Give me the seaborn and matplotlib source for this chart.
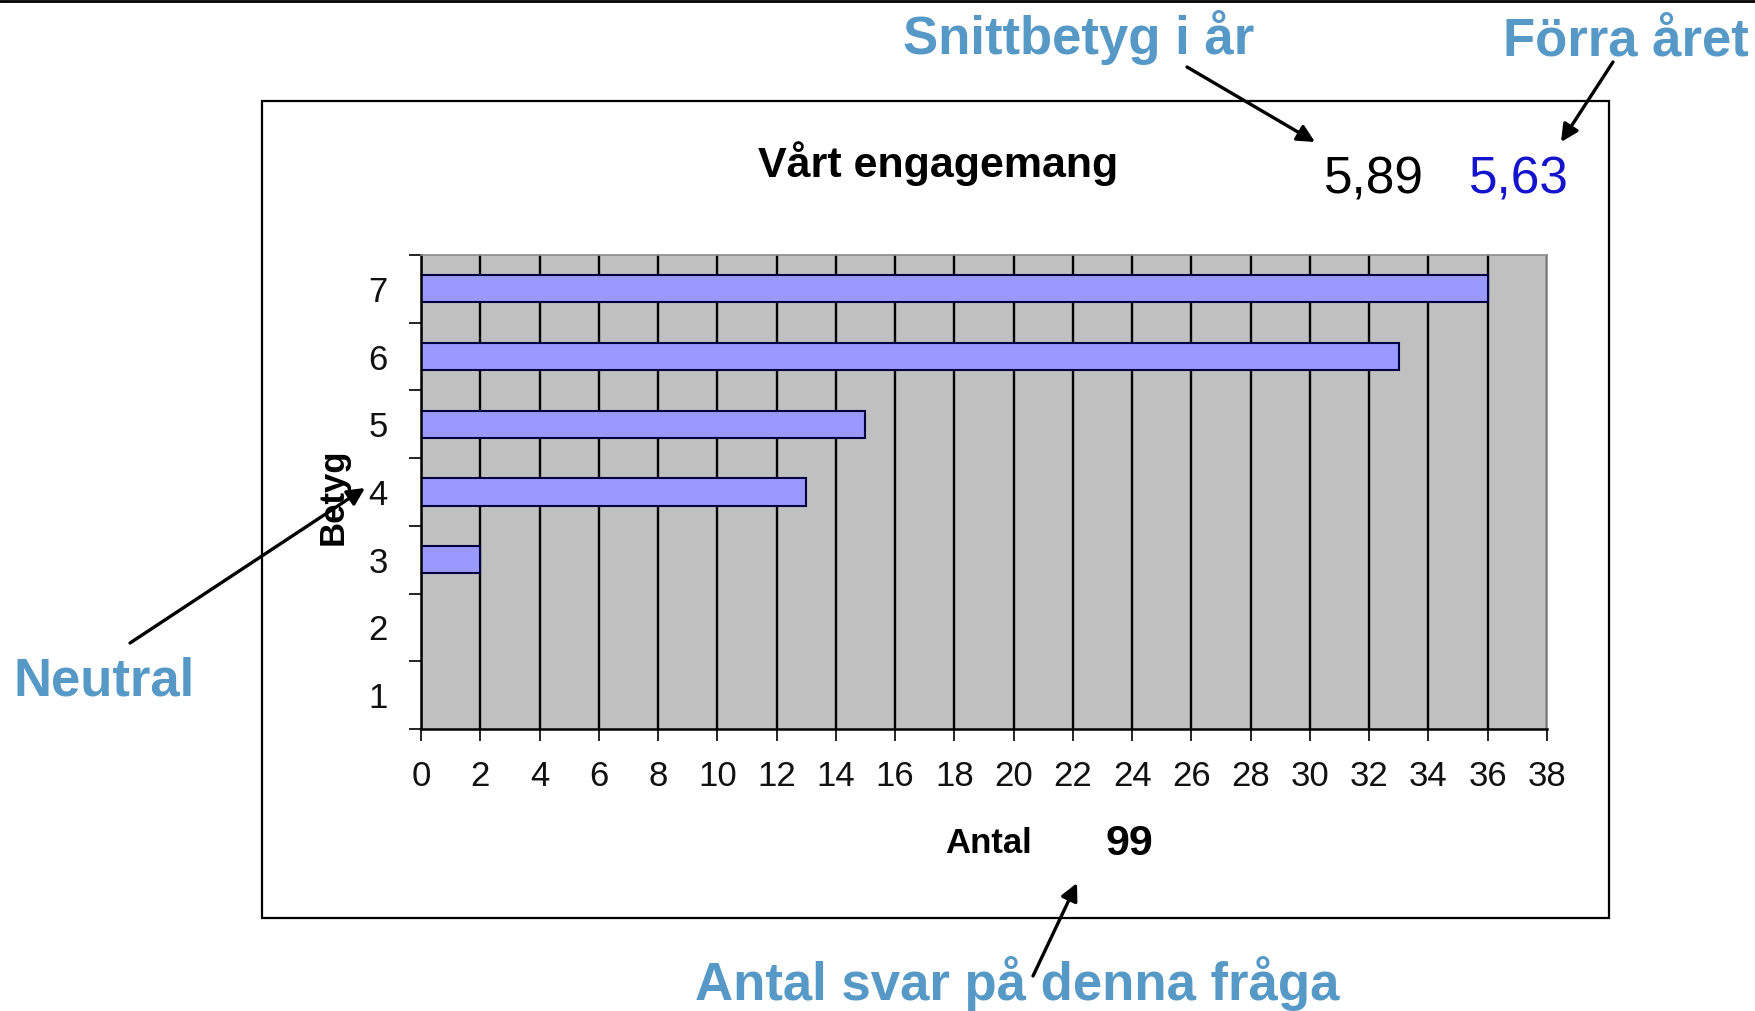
import matplotlib
matplotlib.use("Agg")
import matplotlib.pyplot as plt
from matplotlib.patches import Rectangle
from matplotlib.lines import Line2D
import seaborn as sns
import pandas as pd

# Data
betyg = ["7", "6", "5", "4", "3", "2", "1"]
antal = [36, 33, 15, 13, 2, 0, 0]
forra_aret = 5.63
x_ticks = list(range(0, 39, 2))

df = pd.DataFrame({"Betyg": betyg, "Antal": antal})
n_svar = sum(antal)
snitt = sum(int(b) * a for b, a in zip(betyg, antal)) / n_svar

sns.set_theme(style="white")
plt.rcParams["font.family"] = ["Liberation Sans", "DejaVu Sans"]

W, H = 1756, 1011
fig = plt.figure(figsize=(W / 100, H / 100), dpi=100)


def fx(x):
    return x / W


def fy(y):
    return 1 - y / H


ax = fig.add_axes([fx(421), fy(729), (1547 - 421) / W, (729 - 255) / H])
ax.set_facecolor("#C0C0C0")
ax.set_axisbelow(True)

sns.barplot(data=df, x="Antal", y="Betyg", order=betyg, orient="h",
            color="#9999FF", edgecolor="#000040", linewidth=1.5,
            width=0.4, saturation=1, ax=ax)

ax.xaxis.grid(True, color="black", linewidth=1.7)
ax.yaxis.grid(False)
ax.set_xlim(0, 38)
ax.set_ylim(6.5, -0.5)
ax.set_xticks(x_ticks)
ax.set_yticks([i - 0.5 for i in range(len(betyg) + 1)], minor=True)
ax.set_xlabel("")
ax.set_ylabel("")

ax.tick_params(axis="x", bottom=True, length=8.6, width=1.2, color="black",
               direction="out", pad=14, labelsize=25, labelcolor="#111111")
ax.tick_params(axis="y", which="major", left=False, length=0, pad=24,
               labelsize=25, labelcolor="#111111")
ax.tick_params(axis="y", which="minor", left=True, length=8.6, width=1.2,
               color="black", direction="out")

for side in ["left", "bottom"]:
    ax.spines[side].set_color("black")
    ax.spines[side].set_linewidth(1.8)
for side in ["top", "right"]:
    ax.spines[side].set_color("#8C8C8C")
    ax.spines[side].set_linewidth(1.2)

# Ram och linje överst
fig.add_artist(Rectangle((fx(262), fy(918)), (1609 - 262) / W, (918 - 101) / H,
                         transform=fig.transFigure, fill=False, lw=1.6, ec="black"))
fig.add_artist(Line2D([0, 1], [fy(1), fy(1)], transform=fig.transFigure,
                      color="black", lw=2))

# Texter i diagrammet
fig.text(fx(938), fy(177), "Vårt engagemang", ha="center", va="baseline",
         fontsize=31, fontweight="bold", color="black")
fig.text(fx(1374), fy(193), f"{snitt:.2f}".replace(".", ","), ha="center",
         va="baseline", fontsize=37, color="black")
fig.text(fx(1519), fy(193), f"{forra_aret:.2f}".replace(".", ","), ha="center",
         va="baseline", fontsize=37, color="#1414CC")
fig.text(fx(989), fy(853), "Antal", ha="center", va="baseline",
         fontsize=25, fontweight="bold", color="black")
fig.text(fx(1129), fy(855), str(n_svar), ha="center", va="baseline",
         fontsize=31, fontweight="bold", color="black")
fig.text(fx(333), fy(497), "Betyg", ha="center", va="center", rotation=90,
         fontsize=25, fontweight="bold", color="black")

# Förklaringar med pilar
blue = "#5799C6"
notes = [
    ("Snittbetyg i år", 1079, 54),
    ("Förra året", 1626, 55),
    ("Neutral", 104, 695),
    ("Antal svar på denna fråga", 1017, 1000),
]
for txt, x, y in notes:
    fig.text(fx(x), fy(y), txt, ha="center", va="baseline",
             fontsize=38, fontweight="bold", color=blue)

arrows = [
    ((1187, 67), (1315, 142)),
    ((1613, 62), (1561, 142)),
    ((130, 643), (365, 488)),
    ((1033, 976), (1077, 883)),
]
for (x0, y0), (x1, y1) in arrows:
    ax.annotate("", xy=(fx(x1), fy(y1)), xytext=(fx(x0), fy(y0)),
                xycoords="figure fraction", textcoords="figure fraction",
                arrowprops=dict(arrowstyle="-|>", color="black", lw=2.4,
                                mutation_scale=26, shrinkA=0, shrinkB=0),
                annotation_clip=False)

fig.savefig("out.png", dpi=100)
